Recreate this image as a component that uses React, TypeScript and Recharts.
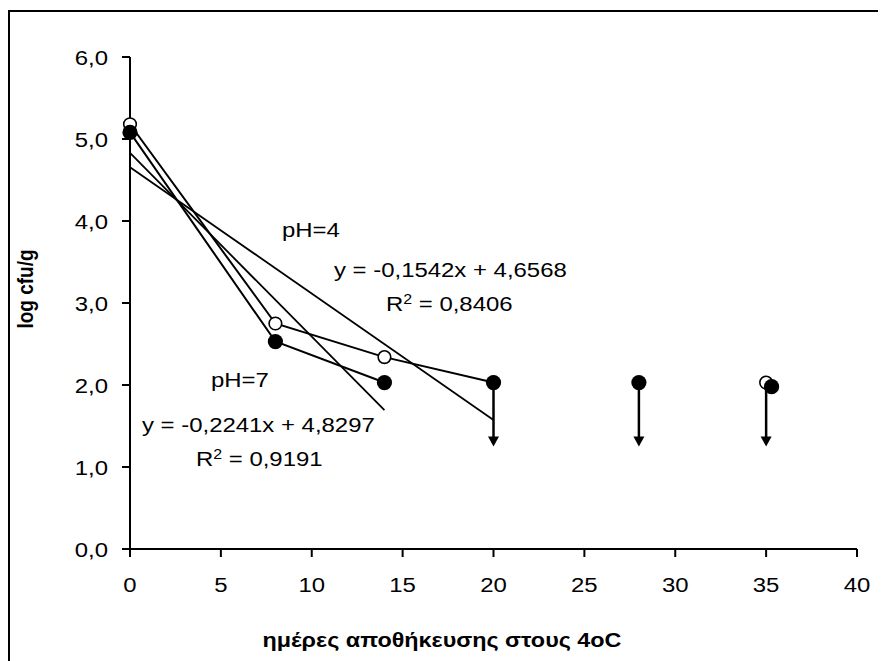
import React from 'react';
import { ComposedChart, Scatter, XAxis, YAxis, ReferenceLine } from 'recharts';

// days of storage at 4oC and log cfu/g
const ph4Days = [0, 8, 14, 20];
const ph4Log = [5.18, 2.75, 2.34, 2.03];
const ph4LooseDays = [35];
const ph4LooseLog = [2.03];

const ph7Days = [0, 8, 14];
const ph7Log = [5.08, 2.53, 2.03];
const ph7LooseDays = [20, 28, 35.3];
const ph7LooseLog = [2.03, 2.03, 1.98];

// points under the detection limit (arrows down)
const limitDays = [20, 28, 35];
const limitFrom = 2.03;
const limitTo = 1.25;

// linear trendlines from the chart
const trend4 = { slope: -0.1542, intercept: 4.6568, xEnd: 20 };
const trend7 = { slope: -0.2241, intercept: 4.8297, xEnd: 14 };

const xTicks = [0, 5, 10, 15, 20, 25, 30, 35, 40];
const yTicks = [0, 1, 2, 3, 4, 5, 6];

const FONT = '"Liberation Sans", Arial, sans-serif';
const SX = 1.14;

const pts = (xs: number[], ys: number[]) => xs.map((x, i) => ({ x, y: ys[i] }));

const OpenDot = (p: any) => (
  <circle cx={p.cx} cy={p.cy} r={6.3} fill="#fff" stroke="#000" strokeWidth={1.6} />
);
const FullDot = (p: any) => <circle cx={p.cx} cy={p.cy} r={7.6} fill="#000" />;
const ArrowHead = (p: any) => (
  <path d={`M${p.cx - 5.5},${p.cy - 10} L${p.cx + 5.5},${p.cy - 10} L${p.cx},${p.cy} Z`} fill="#000" />
);

const Txt = ({ x, y, anchor = 'start', size = 21, bold = false, children }: any) => (
  <text
    transform={`translate(${x},${y}) scale(${SX},1)`}
    textAnchor={anchor}
    fontSize={size}
    fontWeight={bold ? 'bold' : 'normal'}
    fontFamily={FONT}
    fill="#000"
  >
    {children}
  </text>
);

const XTick = (p: any) => (
  <Txt x={p.x} y={p.y + 15} anchor="middle">{p.payload.value}</Txt>
);
const YTick = (p: any) => (
  <Txt x={p.x} y={p.y + 7.5} anchor="end">{p.payload.value.toFixed(1).replace('.', ',')}</Txt>
);

const trendSeg = (t: typeof trend4) => [
  { x: 0, y: t.intercept },
  { x: t.xEnd, y: t.intercept + t.slope * t.xEnd },
];

const fmt = (v: number) => String(v).replace('.', ',');

export default function App() {
  return (
    <div style={{ position: 'relative', width: 870, height: 653 }}>
      <div
        style={{
          position: 'absolute',
          left: 0,
          top: 2,
          width: 878,
          height: 651,
          borderTop: '2px solid #000',
          borderLeft: '2px solid #000',
          boxSizing: 'border-box',
        }}
      />
      <div style={{ position: 'absolute', left: 2, top: 4 }}>
        <ComposedChart width={870} height={640} margin={{ top: 45, right: 23, bottom: 43, left: 60 }}>
          <XAxis
            type="number"
            dataKey="x"
            domain={[0, 40]}
            ticks={xTicks}
            height={60}
            tickSize={8}
            tickMargin={20}
            stroke="#000"
            strokeWidth={2}
            tickLine={{ stroke: '#000', strokeWidth: 2 }}
            tick={<XTick />}
          />
          <YAxis
            type="number"
            dataKey="y"
            domain={[0, 6]}
            ticks={yTicks}
            width={60}
            tickSize={8}
            tickMargin={14}
            stroke="#000"
            strokeWidth={2}
            tickLine={{ stroke: '#000', strokeWidth: 2 }}
            tick={<YTick />}
          />
          <ReferenceLine segment={trendSeg(trend4)} stroke="#000" strokeWidth={1.8} />
          <ReferenceLine segment={trendSeg(trend7)} stroke="#000" strokeWidth={1.8} />
          <Scatter
            data={pts(ph4Days, ph4Log)}
            fill="#000"
            line={{ stroke: '#000', strokeWidth: 2 }}
            shape={OpenDot}
            isAnimationActive={false}
          />
          <Scatter data={pts(ph4LooseDays, ph4LooseLog)} fill="#000" shape={OpenDot} isAnimationActive={false} />
          <Scatter
            data={pts(ph7Days, ph7Log)}
            fill="#000"
            line={{ stroke: '#000', strokeWidth: 2 }}
            shape={FullDot}
            isAnimationActive={false}
          />
          <Scatter data={pts(ph7LooseDays, ph7LooseLog)} fill="#000" shape={FullDot} isAnimationActive={false} />
          {limitDays.map((d) => (
            <ReferenceLine
              key={d}
              segment={[
                { x: d, y: limitFrom },
                { x: d, y: limitTo + 0.05 },
              ]}
              stroke="#000"
              strokeWidth={2.5}
            />
          ))}
          <Scatter
            data={limitDays.map((d) => ({ x: d, y: limitTo }))}
            fill="#000"
            shape={ArrowHead}
            isAnimationActive={false}
          />
        </ComposedChart>
      </div>
      <svg
        width={880}
        height={661}
        style={{ position: 'absolute', left: -8, top: -8, pointerEvents: 'none' }}
      >
        <Txt x={282} y={237}>pH=4</Txt>
        <Txt x={334} y={277}>
          {`y = ${fmt(trend4.slope)}x + ${fmt(trend4.intercept)}`}
        </Txt>
        <Txt x={386} y={311}>
          R<tspan fontSize={14} dy={-7}>2</tspan>
          <tspan dy={7}> = 0,8406</tspan>
        </Txt>
        <Txt x={211} y={387}>pH=7</Txt>
        <Txt x={142} y={432}>
          {`y = ${fmt(trend7.slope)}x + ${fmt(trend7.intercept)}`}
        </Txt>
        <Txt x={196} y={466}>
          R<tspan fontSize={14} dy={-7}>2</tspan>
          <tspan dy={7}> = 0,9191</tspan>
        </Txt>
        <text
          transform={`translate(33,289) rotate(-90) scale(1,${SX})`}
          textAnchor="middle"
          fontSize={19}
          fontWeight="bold"
          fontFamily={FONT}
          fill="#000"
        >
          log cfu/g
        </text>
        <Txt x={442} y={647} anchor="middle" size={20.5} bold>
          ημέρες αποθήκευσης στους 4oC
        </Txt>
      </svg>
    </div>
  );
}
